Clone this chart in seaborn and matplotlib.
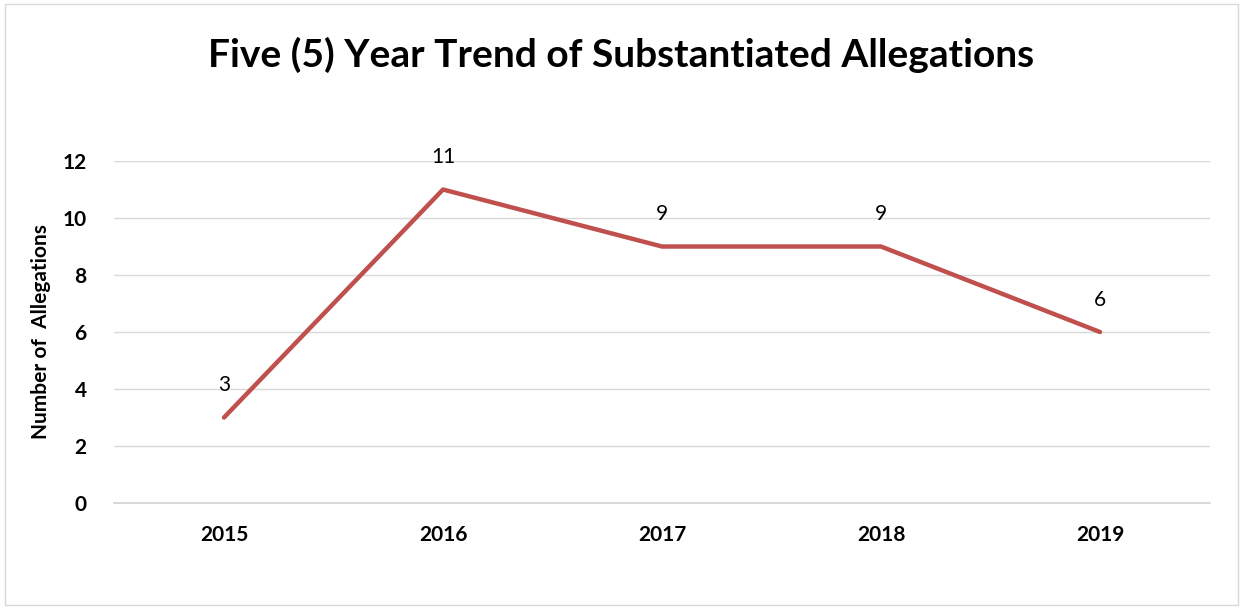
import pandas as pd
import matplotlib.pyplot as plt
import seaborn as sns

# Chart data
years = ["2015", "2016", "2017", "2018", "2019"]
allegations = [3, 11, 9, 9, 6]

df = pd.DataFrame({"Year": years, "Allegations": allegations})

sns.set_style("white")
plt.rcParams["font.family"] = ["Lato", "DejaVu Sans"]
plt.rcParams["text.color"] = "black"
plt.rcParams["xtick.color"] = "black"
plt.rcParams["ytick.color"] = "black"
plt.rcParams["axes.labelcolor"] = "black"
plt.rcParams["axes.labelweight"] = "bold"

fig = plt.figure(figsize=(12.43, 6.09), dpi=100)
ax = fig.add_axes([0.0921, 0.174, 0.881, 0.5616])

# Chart border
fig.patches.append(plt.Rectangle((0.004, 0.006), 0.992, 0.988, transform=fig.transFigure,
                                 fill=False, edgecolor="#D9D9D9", linewidth=1))

sns.lineplot(data=df, x="Year", y="Allegations", color="#C0504D", linewidth=3.2,
             sort=False, ax=ax, zorder=3)

# Data labels
for i, v in enumerate(allegations):
    ax.annotate(str(v), (i, v), xytext=(0, 16), textcoords="offset points",
                ha="center", va="bottom", fontsize=15)

ax.set_xlim(-0.5, len(years) - 0.5)
ax.set_ylim(0, 12)
ax.set_yticks(range(0, 13, 2))
ax.grid(axis="y", color="#D9D9D9", linewidth=1)
ax.axhline(0, color="#D9D9D9", linewidth=1.5, clip_on=False)
ax.set_axisbelow(True)
for s in ax.spines.values():
    s.set_visible(False)
ax.tick_params(axis="both", length=0, labelsize=15)
ax.tick_params(axis="y", pad=20)
ax.tick_params(axis="x", pad=16)
for lbl in ax.get_xticklabels() + ax.get_yticklabels():
    lbl.set_fontweight("bold")
ax.set_xlabel("")
ax.set_ylabel("Number of  Allegations", fontsize=15, fontweight="bold", labelpad=8)

fig.text(0.5, 0.91, "Five (5) Year Trend of Substantiated Allegations",
         ha="center", va="center", fontsize=28, fontweight="bold")

fig.savefig("out.png", dpi=100)
